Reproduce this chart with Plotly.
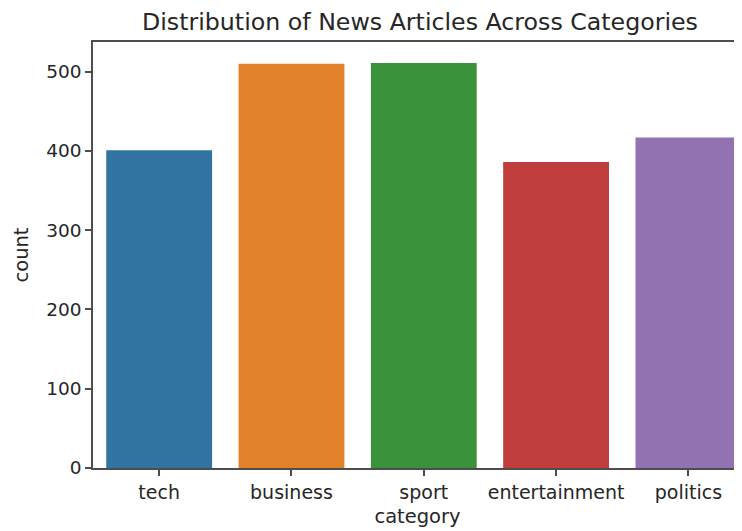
import plotly.graph_objects as go

categories = ["tech", "business", "sport", "entertainment", "politics"]
counts = [401, 510, 511, 386, 417]
colors = ["#3274a1", "#e1812c", "#3a923a", "#c03d3e", "#9372b2"]

# the page body adds an 8px offset; size the figure so it fills the window exactly
OFF = 8
W, H = 742 - OFF, 531 - OFF
FONT = "DejaVu Sans"

fig = go.Figure(go.Bar(
    x=list(range(len(categories))), y=counts,
    marker=dict(color=colors, line=dict(width=0)),
    width=0.8,
))

fig.update_layout(
    width=W, height=H,
    margin=dict(l=93 - OFF, r=0, t=41.5 - OFF, b=63, autoexpand=False),
    paper_bgcolor="white", plot_bgcolor="white",
    showlegend=False,
    font=dict(family=FONT, size=19, color="#262626"),
    title=dict(text="Distribution of News Articles Across Categories",
               x=(420 - OFF) / W, xanchor="center", xref="container",
               y=1 - (22 - OFF) / H, yanchor="middle",
               font=dict(family=FONT, size=23.7, color="#262626")),
)
fig.update_xaxes(
    range=[-0.5, 4.405],
    tickmode="array", tickvals=list(range(len(categories))), ticktext=categories,
    showgrid=False, zeroline=False,
    showline=True, linecolor="#4d4d4d", linewidth=1.5, mirror=True,
    ticks="outside", ticklen=6, tickcolor="#4d4d4d", tickwidth=1.5,
    tickfont=dict(size=19),
    title=dict(text="category", standoff=8, font=dict(size=19.5)),
    automargin=False,
)
fig.update_yaxes(
    range=[0, 537.5],
    tickvals=[0, 100, 200, 300, 400, 500],
    showgrid=False, zeroline=False,
    showline=True, linecolor="#4d4d4d", linewidth=1.5,
    ticks="outside", ticklen=6, tickcolor="#4d4d4d", tickwidth=1.5,
    tickfont=dict(size=18.5),
    title=dict(text="count", standoff=12, font=dict(size=19.5)),
    automargin=False,
)

fig.write_html("out.html")
